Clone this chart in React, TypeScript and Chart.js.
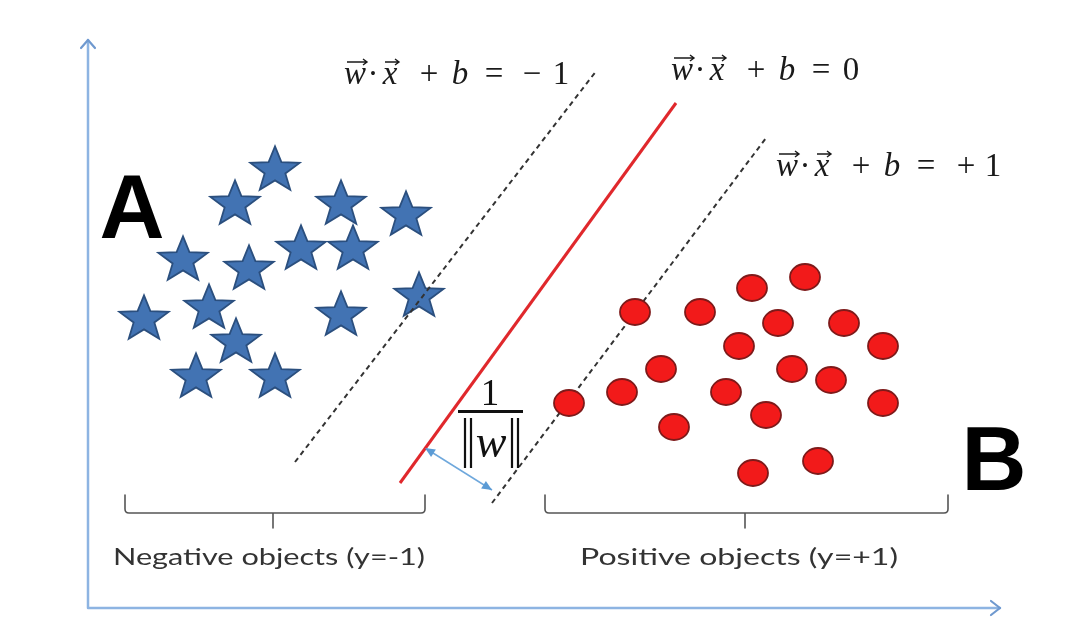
import React, { useEffect, useRef } from "react";
import { Chart, registerables } from "chart.js";
Chart.register(...registerables);

// Data coordinates: origin at the axes' corner, x to the right, y upward.
const starX = [187, 147, 253, 318, 95, 161, 213, 265, 331, 56, 121, 253, 148, 108, 187];
const starY = [440, 406, 406, 395, 350, 341, 361, 361, 314, 291, 302, 295, 268, 233, 233];

const circleX = [547, 612, 664, 717, 690, 756, 795, 651, 573, 704, 743, 534, 481, 638, 795, 678, 586, 730, 665];
const circleY = [296, 296, 320, 331, 285, 285, 262, 262, 239, 239, 228, 216, 205, 216, 205, 193, 181, 147, 135];

const boundaryX = [312, 588];
const boundaryY = [125, 505];
const negMarginX = [207, 509];
const negMarginY = [146, 538];
const posMarginX = [404, 678];
const posMarginY = [105, 470];
const marginArrowX = [337, 404];
const marginArrowY = [160, 118];

const eqRightSides = [["−", "1"], ["0"], ["+", "1"]];
const groupLabels = ["Negative objects (y=-1)", "Positive objects (y=+1)"];
const classLabels = ["A", "B"];

const toPts = (xs: number[], ys: number[]) => xs.map((x, i) => ({ x, y: ys[i] }));

function makeStar(R: number, ratio: number, sx: number, fill: string, stroke: string) {
  const pad = 3;
  const w = Math.ceil(2 * R * sx + 2 * pad);
  const h = Math.ceil(2 * R + 2 * pad);
  const c = document.createElement("canvas");
  c.width = w;
  c.height = h;
  const g = c.getContext("2d")!;
  const cx = w / 2;
  const cy = h / 2 + (R - R * Math.cos(Math.PI / 5)) / 2;
  g.beginPath();
  for (let i = 0; i < 10; i++) {
    const rr = i % 2 === 0 ? R : R * ratio;
    const a = -Math.PI / 2 + (i * Math.PI) / 5;
    const x = cx + rr * Math.cos(a) * sx;
    const y = cy + rr * Math.sin(a);
    if (i === 0) g.moveTo(x, y);
    else g.lineTo(x, y);
  }
  g.closePath();
  g.fillStyle = fill;
  g.fill();
  g.lineWidth = 1.8;
  g.strokeStyle = stroke;
  g.stroke();
  return c;
}

function makeEllipse(rx: number, ry: number, fill: string, stroke: string) {
  const pad = 2;
  const c = document.createElement("canvas");
  c.width = Math.ceil(2 * rx + 2 * pad);
  c.height = Math.ceil(2 * ry + 2 * pad);
  const g = c.getContext("2d")!;
  g.beginPath();
  g.ellipse(c.width / 2, c.height / 2, rx, ry, 0, 0, Math.PI * 2);
  g.fillStyle = fill;
  g.fill();
  g.lineWidth = 1.8;
  g.strokeStyle = stroke;
  g.stroke();
  return c;
}

function fitText(ctx: CanvasRenderingContext2D, text: string, cx: number, base: number, width: number, font: string, color: string) {
  ctx.save();
  ctx.font = font;
  ctx.fillStyle = color;
  const w = ctx.measureText(text).width;
  ctx.translate(cx, base);
  ctx.scale(width / w, 1);
  ctx.textAlign = "center";
  ctx.textBaseline = "alphabetic";
  ctx.fillText(text, 0, 0);
  ctx.restore();
}

const overlay = {
  id: "overlay",
  beforeDatasetsDraw(chart: any) {
    const ctx: CanvasRenderingContext2D = chart.ctx;
    const xs = chart.scales.x;
    const ys = chart.scales.y;
    const px = (v: number) => xs.getPixelForValue(v);
    const py = (v: number) => ys.getPixelForValue(v);
    ctx.save();
    // axes
    ctx.strokeStyle = "#8DB4E2";
    ctx.lineWidth = 2.5;
    ctx.lineCap = "round";
    ctx.beginPath();
    ctx.moveTo(px(0), py(0));
    ctx.lineTo(px(0), py(568));
    ctx.moveTo(px(0), py(0));
    ctx.lineTo(px(912), py(0));
    ctx.stroke();
    ctx.strokeStyle = "#6F99CF";
    ctx.lineWidth = 2.2;
    ctx.lineJoin = "round";
    ctx.beginPath();
    ctx.moveTo(px(0) - 7, py(568) + 8);
    ctx.lineTo(px(0), py(568));
    ctx.lineTo(px(0) + 7, py(568) + 8);
    ctx.moveTo(px(912) - 9, py(0) - 7);
    ctx.lineTo(px(912), py(0));
    ctx.lineTo(px(912) - 9, py(0) + 7);
    ctx.stroke();

    // brackets
    ctx.strokeStyle = "#555555";
    ctx.lineWidth = 1.6;
    const bracket = (x1: number, x2: number, xc: number) => {
      ctx.beginPath();
      ctx.moveTo(px(x1), py(113));
      ctx.lineTo(px(x1), py(99));
      ctx.quadraticCurveTo(px(x1), py(95), px(x1) + 4, py(95));
      ctx.lineTo(px(x2) - 4, py(95));
      ctx.quadraticCurveTo(px(x2), py(95), px(x2), py(99));
      ctx.lineTo(px(x2), py(113));
      ctx.moveTo(px(xc), py(95));
      ctx.lineTo(px(xc), py(80));
      ctx.stroke();
    };
    bracket(37, 337, 185);
    bracket(457, 860, 657);
    ctx.restore();
  },
  afterDatasetsDraw(chart: any) {
    const ctx: CanvasRenderingContext2D = chart.ctx;
    const xs = chart.scales.x;
    const ys = chart.scales.y;
    const px = (v: number) => xs.getPixelForValue(v);
    const py = (v: number) => ys.getPixelForValue(v);
    ctx.save();

    // margin arrowheads
    const head = (x1: number, y1: number, x2: number, y2: number) => {
      const a = Math.atan2(y2 - y1, x2 - x1);
      const L = 10, H = 4.5;
      ctx.beginPath();
      ctx.moveTo(x2, y2);
      ctx.lineTo(x2 - L * Math.cos(a) + H * Math.sin(a), y2 - L * Math.sin(a) - H * Math.cos(a));
      ctx.lineTo(x2 - L * Math.cos(a) - H * Math.sin(a), y2 - L * Math.sin(a) + H * Math.cos(a));
      ctx.closePath();
      ctx.fill();
    };
    ctx.fillStyle = "#5B9BD5";
    const ax1 = px(marginArrowX[0]), ay1 = py(marginArrowY[0]);
    const ax2 = px(marginArrowX[1]), ay2 = py(marginArrowY[1]);
    head(ax1, ay1, ax2, ay2);
    head(ax2, ay2, ax1, ay1);

    // equations
    const serif = '"Liberation Serif", "DejaVu Serif", serif';
    const eqColor = "#1A1A1A";
    const drawEq = (wc: number, base: number, tail: string[], tailPos: number[]) => {
      ctx.fillStyle = eqColor;
      ctx.strokeStyle = eqColor;
      ctx.textAlign = "center";
      ctx.textBaseline = "alphabetic";
      const tok = (t: string, dx: number, italic: boolean) => {
        ctx.font = (italic ? "italic " : "") + "33px " + serif;
        ctx.fillText(t, wc + dx, base);
      };
      tok("w", 0, true);
      tok("·", 18, false);
      tok("x", 35, true);
      tok("+", 74, false);
      tok("b", 105, true);
      tok("=", 139, false);
      tail.forEach((t, i) => tok(t, tailPos[i], false));
      // vector arrows
      const vec = (cx: number, half: number) => {
        const yv = base - 22;
        ctx.lineWidth = 1.4;
        ctx.beginPath();
        ctx.moveTo(cx - half + 2, yv);
        ctx.lineTo(cx + half + 2, yv);
        ctx.moveTo(cx + half - 2, yv - 3);
        ctx.lineTo(cx + half + 2, yv);
        ctx.lineTo(cx + half - 2, yv + 3);
        ctx.stroke();
      };
      vec(wc, 10);
      vec(wc + 35, 7);
    };
    drawEq(px(267), py(524), eqRightSides[0], [177, 206]);
    drawEq(px(594), py(528), eqRightSides[1], [169]);
    drawEq(px(699), py(432), eqRightSides[2], [179, 206]);

    // fraction 1/||w||
    ctx.fillStyle = "#111";
    ctx.strokeStyle = "#111";
    ctx.textAlign = "center";
    ctx.font = "37px " + serif;
    ctx.fillText("1", px(402), py(203));
    ctx.lineWidth = 3;
    ctx.beginPath();
    ctx.moveTo(px(370), py(196.5));
    ctx.lineTo(px(435), py(196.5));
    ctx.stroke();
    ctx.lineWidth = 2.2;
    ctx.beginPath();
    [377, 383, 424, 430].forEach((bx) => {
      ctx.moveTo(px(bx), py(190));
      ctx.lineTo(px(bx), py(140));
    });
    ctx.stroke();
    ctx.font = "italic 46px " + serif;
    ctx.fillText("w", px(403), py(151));

    // class letters
    ctx.fillStyle = "#000";
    ctx.font = 'bold 90px "Liberation Sans", Arial, sans-serif';
    ctx.fillText(classLabels[0], px(44), py(370));
    ctx.fillText(classLabels[1], px(906), py(118));

    // group labels
    fitText(ctx, groupLabels[0], px(181), py(43), 312, '24px Lato, "Open Sans", sans-serif', "#333333");
    fitText(ctx, groupLabels[1], px(651), py(43), 318, '24px Lato, "Open Sans", sans-serif', "#333333");
    ctx.restore();
  },
};

export default function App() {
  const ref = useRef<HTMLCanvasElement>(null);
  useEffect(() => {
    const starImg = makeStar(24, 0.42, 1.08, "#4273B3", "#2B4F7E");
    const dotImg = makeEllipse(15, 13, "#F21A1A", "#7E1A1A");
    const chart = new Chart(ref.current!, {
      type: "scatter",
      data: {
        datasets: [
          { label: "Positive", data: toPts(circleX, circleY), pointStyle: dotImg as any, pointRadius: 15, order: 0 },
          { label: "Boundary", data: toPts(boundaryX, boundaryY), showLine: true, borderColor: "#E0282C", borderWidth: 3, pointRadius: 0, order: 1 },
          { label: "Margin", data: toPts(marginArrowX, marginArrowY), showLine: true, borderColor: "#6FA8DC", borderWidth: 1.5, pointRadius: 0, order: 1 },
          { label: "Neg margin", data: toPts(negMarginX, negMarginY), showLine: true, borderColor: "#333333", borderWidth: 2, borderDash: [5, 4], pointRadius: 0, order: 2 },
          { label: "Pos margin", data: toPts(posMarginX, posMarginY), showLine: true, borderColor: "#333333", borderWidth: 2, borderDash: [5, 4], pointRadius: 0, order: 2 },
          { label: "Negative", data: toPts(starX, starY), pointStyle: starImg as any, pointRadius: 24, order: 3 },
        ],
      },
      options: {
        animation: false,
        responsive: true,
        maintainAspectRatio: false,
        events: [],
        layout: { padding: 0, autoPadding: false },
        plugins: { legend: { display: false }, tooltip: { enabled: false } },
        scales: {
          x: { type: "linear", min: -88, max: 992, display: false },
          y: { type: "linear", min: -32, max: 608, display: false },
        },
      },
      plugins: [overlay],
    });
    return () => chart.destroy();
  }, []);
  return (
    <div style={{ position: "fixed", left: 0, top: 0, width: 1080, height: 640, background: "#fff" }}>
      <canvas ref={ref} />
    </div>
  );
}
